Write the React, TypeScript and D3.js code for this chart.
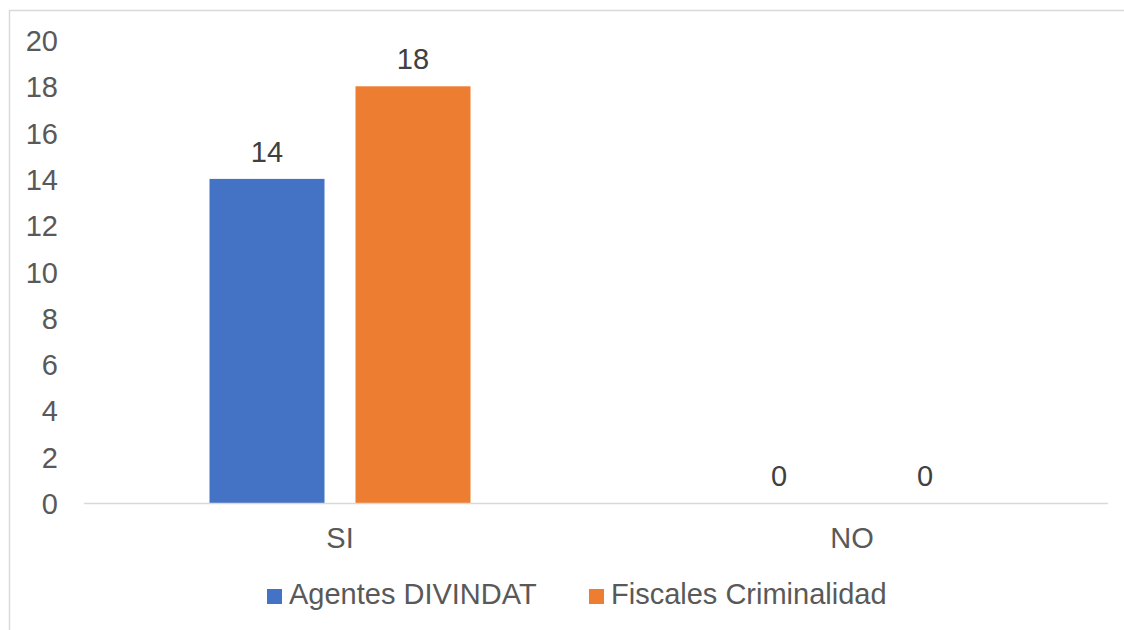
import React from "react";
import * as d3 from "d3";

const categories = ["SI", "NO"];
const seriesNames = ["Agentes DIVINDAT", "Fiscales Criminalidad"];
const agentesValues = [14, 0];
const fiscalesValues = [18, 0];
const yTicks = [0, 2, 4, 6, 8, 10, 12, 14, 16, 18, 20];
const colors = ["#4472C4", "#ED7D31"];

const W = 1124;
const H = 630;
const FONT = "'Liberation Sans', Arial, sans-serif";
const TEXT = "#595959";

export default function App() {
  const x0 = d3.scaleBand<string>().domain(categories).range([84, 1108]).paddingInner(0).paddingOuter(0);
  const x1 = d3
    .scaleBand<string>()
    .domain(seriesNames)
    .range([0, x0.bandwidth()])
    .paddingInner(31 / 146)
    .paddingOuter(0.8596);
  const y = d3.scaleLinear().domain([0, 20]).range([503, 40]);
  const seriesValues = [agentesValues, fiscalesValues];

  return (
    <svg width={W} height={H} style={{ position: "absolute", left: 0, top: 0, background: "#fff" }}>
      <rect x={9.5} y={10.5} width={1130} height={640} fill="#fff" stroke="#d9d9d9" strokeWidth={1.5} />
      {yTicks.map((t) => (
        <text key={t} x={58} y={y(t) + 11} textAnchor="end" fontFamily={FONT} fontSize={29} fill={TEXT}>
          {t}
        </text>
      ))}
      {categories.map((c, ci) =>
        seriesNames.map((s, si) => {
          const v = seriesValues[si][ci];
          const bx = (x0(c) as number) + (x1(s) as number);
          const bw = x1.bandwidth();
          return (
            <g key={c + s}>
              <rect x={bx} y={y(v)} width={bw} height={y(0) - y(v)} fill={colors[si]} />
              <text
                x={bx + bw / 2}
                y={y(v) - 17}
                textAnchor="middle"
                fontFamily={FONT}
                fontSize={29}
                fill="#404040"
              >
                {v}
              </text>
            </g>
          );
        })
      )}
      <line x1={84} x2={1108} y1={y(0) + 0.5} y2={y(0) + 0.5} stroke="#d9d9d9" strokeWidth={1.5} />
      {categories.map((c) => (
        <text
          key={c}
          x={(x0(c) as number) + x0.bandwidth() / 2}
          y={548}
          textAnchor="middle"
          fontFamily={FONT}
          fontSize={29}
          fill={TEXT}
        >
          {c}
        </text>
      ))}
      {seriesNames.map((s, i) => {
        const lx = [267, 589][i];
        return (
          <g key={s}>
            <rect x={lx} y={589} width={15} height={15} fill={colors[i]} />
            <text x={lx + 22} y={604} fontFamily={FONT} fontSize={29} fill={TEXT}>
              {s}
            </text>
          </g>
        );
      })}
    </svg>
  );
}
